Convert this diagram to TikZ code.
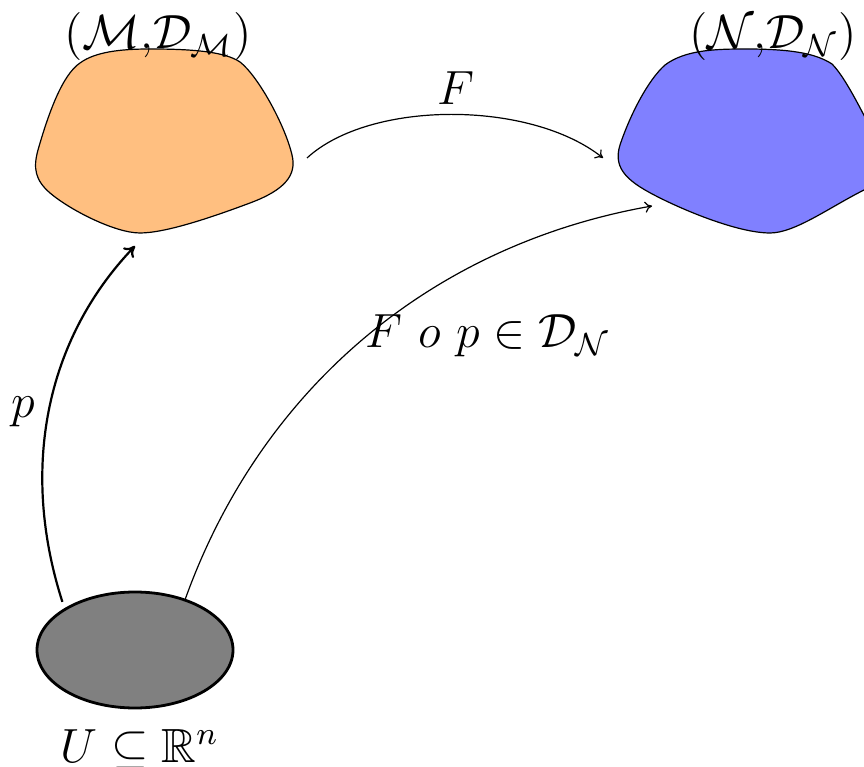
\documentclass[tikz,border=0pt]{standalone}
\usepackage{amssymb}
\usetikzlibrary{arrows.meta,shapes.geometric}

\begin{document}
\begin{tikzpicture}[
  x=0.25pt, y=-0.25pt,
  font=\fontsize{12}{14}\selectfont,
  blob/.style={draw=black, line width=0.3pt},
  thinarrow/.style={line width=0.3pt, -{To[length=1.8pt,width=2.8pt]}},
  fatarrow/.style={line width=0.55pt, -{To[length=2.6pt,width=3.6pt]}},
  lbl/.style={inner sep=0pt, anchor=base}
]
\clip (0,0) rectangle (864,767);

% the two manifolds
\draw[blob, fill=orange!50]
  (150,49) .. controls (195,49) and (225,52) .. (240,62)
           .. controls (258,76) and (285,125) .. (292,155)
           .. controls (297,175) and (285,190) .. (250,203)
           .. controls (210,218) and (165,233) .. (140,233)
           .. controls (115,233) and (70,210) .. (50,193)
           .. controls (35,180) and (33,168) .. (38,150)
           .. controls (48,115) and (62,75) .. (80,63)
           .. controls (95,52) and (120,49) .. (150,49) -- cycle;
\draw[blob, fill=blue!50]
  (745,49) .. controls (790,49) and (815,53) .. (832,64)
           .. controls (848,80) and (868,125) .. (885,155)
           .. controls (892,172) and (885,180) .. (864,190)
           .. controls (830,207) and (795,233) .. (770,233)
           .. controls (740,233) and (690,213) .. (660,198)
           .. controls (630,183) and (612,170) .. (620,145)
           .. controls (630,115) and (648,80) .. (665,65)
           .. controls (685,50) and (715,49) .. (745,49) -- cycle;

% the chart domain
\node[ellipse, draw, fill=gray, line width=0.7pt, minimum width=49pt,
      minimum height=29pt, inner sep=0pt, outer sep=0pt] (U) at (135,650) {};

% connector ends on the manifolds
\coordinate (Mout) at (307,158);
\coordinate (Nin)  at (603,158);
\coordinate (Mbot) at (135,246);
\coordinate (Nlow) at (652,206);

% labels
\node[lbl] (lM)   at (158,49)  {$(\mathcal{M}{,}\mathcal{D}_{\mathcal{M}})$};
\node[lbl] (lN)   at (773,49)  {$(\mathcal{N}{,}\mathcal{D}_{\mathcal{N}})$};
\node[lbl] (lF)   at (456,105) {$F$};
\node[lbl] (lp)   at (23,418)  {$p$};
\node[lbl] (lFp)  at (488,348) {$F\ o\ p \in \mathcal{D}_{\mathcal{N}}$};
\node[lbl] (lU)   at (140,762) {$U \subseteq \mathbb{R}^n$};

% maps
\draw[thinarrow] (Mout) .. controls (370,100) and (530,100) .. (Nin);
\draw[fatarrow, shorten <=2pt] (U.150) .. controls (20,470) and (45,340) .. (Mbot);
\draw[thinarrow] (U.45) .. controls (260,390) and (430,245) .. (Nlow);
\end{tikzpicture}
\end{document}
